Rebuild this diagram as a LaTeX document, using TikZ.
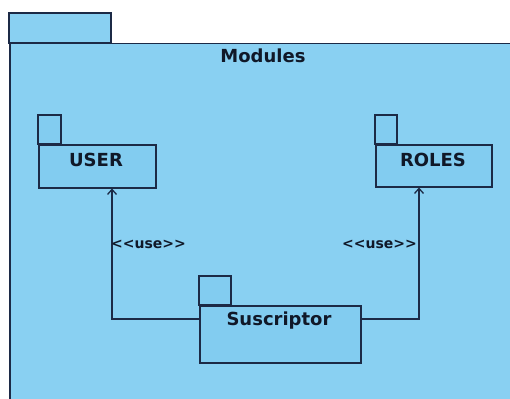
\documentclass[tikz,border=0pt]{standalone}
\usepackage{fontspec}
\setmainfont{DejaVu Sans}
\usetikzlibrary{arrows.meta}
\definecolor{pkgfill}{RGB}{137,208,242}
\definecolor{pkgfillin}{RGB}{130,204,240}
\definecolor{pkgline}{RGB}{28,42,70}
\definecolor{pkgtext}{RGB}{16,24,40}
\tikzset{
  x=1pt, y=-1pt,
  pkgbody/.style={draw=pkgline, line width=1.5pt, fill=pkgfillin, inner sep=0pt},
  pkgtab/.style={draw=pkgline, line width=1.5pt, fill=pkgfillin},
  pkgname/.style={text=pkgtext, font=\bfseries\fontsize{18}{21}\selectfont, inner sep=0pt},
  stereo/.style={text=pkgtext, font=\bfseries\fontsize{14}{16}\selectfont, inner sep=0pt},
  dep/.style={draw=pkgline, line width=1.5pt, -{Straight Barb[length=5pt,width=9pt,line width=1.3pt]}}
}
\begin{document}
\begin{tikzpicture}
\useasboundingbox (0,0) rectangle (510,398);
\clip (0,0) rectangle (510,398);
\fill[white] (0,0) rectangle (510,398);

% outer package "Modules"
\draw[pkgtab, fill=pkgfill] (9,13) rectangle (111,43);
\node[pkgbody, fill=pkgfill, anchor=north west, minimum width=510pt, minimum height=365pt] (modules) at (9,43) {};
\node[pkgname] (modname) at (263,56) {Modules};

% package USER
\draw[pkgtab] (38,115) rectangle (61,144);
\node[pkgbody, anchor=north west, minimum width=117pt, minimum height=43pt] (user) at (38,144) {};
\node[pkgname] (username) at (96,160) {USER};

% package ROLES
\draw[pkgtab] (375,115) rectangle (397,144);
\node[pkgbody, anchor=north west, minimum width=116pt, minimum height=42pt] (roles) at (375,144) {};
\node[pkgname] (rolesname) at (433,160) {ROLES};

% package Suscriptor
\draw[pkgtab] (199,276) rectangle (231,305);
\node[pkgbody, anchor=north west, minimum width=161pt, minimum height=57pt] (sus) at (199,305) {};
\node[pkgname] (susname) at (279,321) {Suscriptor};

% <<use>> dependencies
\draw[dep] ([yshift=-14pt]sus.north west) -| ([xshift=74pt]user.south west);
\draw[dep] ([yshift=-14pt]sus.north east) -| ([xshift=44pt]roles.south west);
\node[stereo, anchor=west] (useleft) at (111,244) {<{}<use>{}>};
\node[stereo, anchor=east] (useright) at (417,244) {<{}<use>{}>};
\end{tikzpicture}
\end{document}
